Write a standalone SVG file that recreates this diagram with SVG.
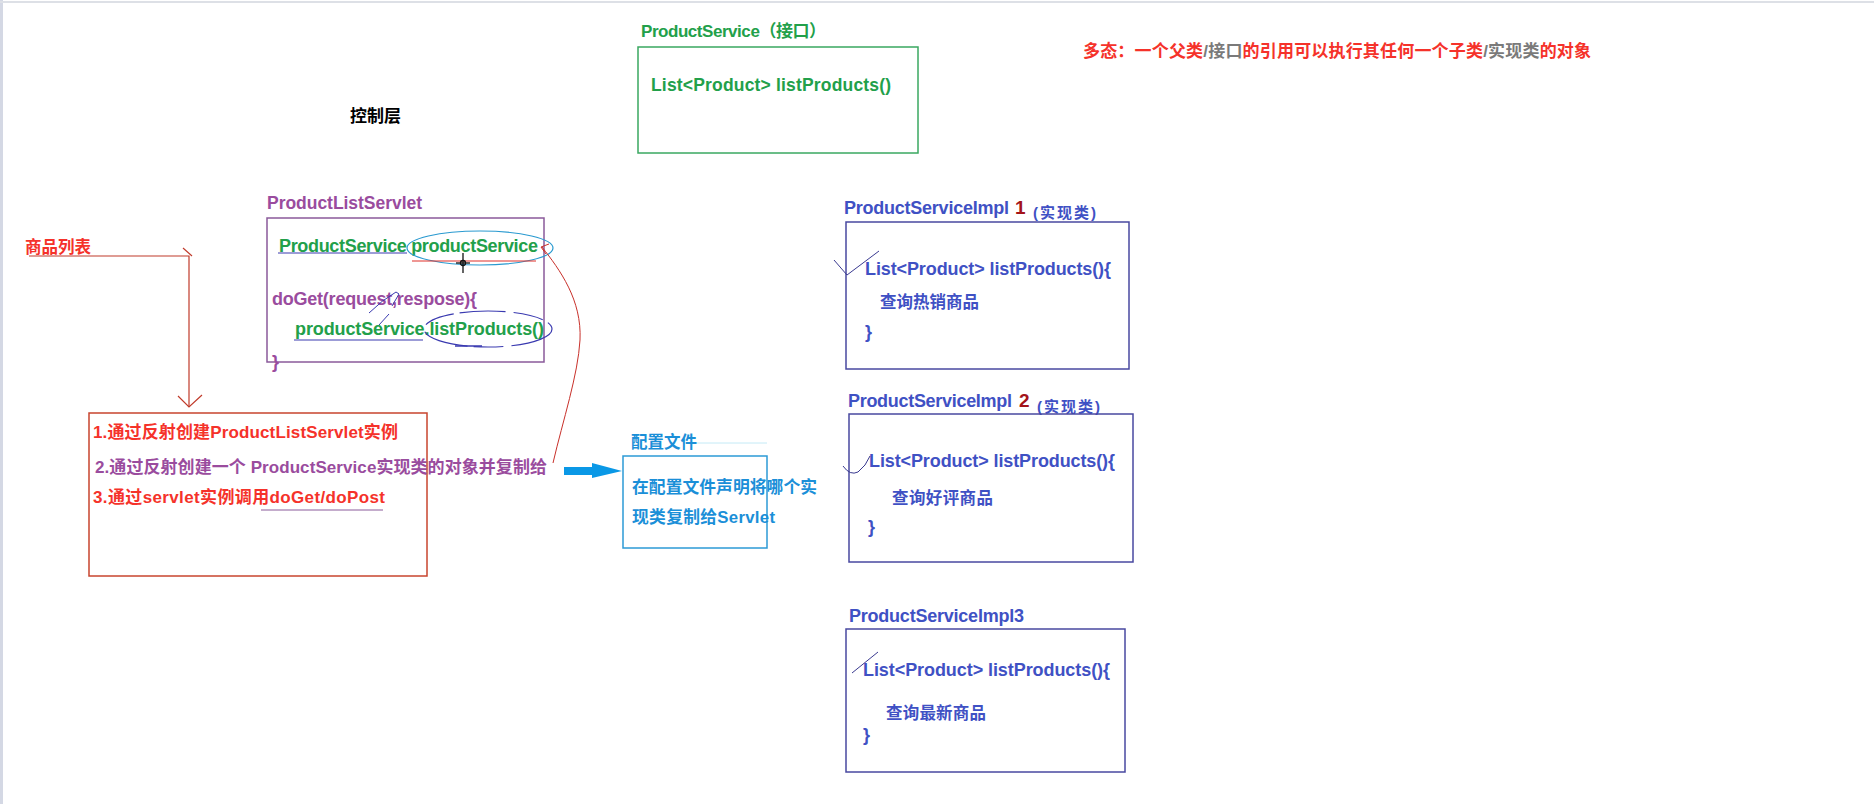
<svg xmlns="http://www.w3.org/2000/svg" width="1874" height="804" viewBox="0 0 1874 804">
<style>
text{font-family:"Liberation Sans","Noto Sans CJK SC",sans-serif;font-weight:bold;}
.g{fill:#22a04a;font-size:18px}
.p{fill:#9a4c9e;font-size:18px}
.b{fill:#3f51c4;font-size:18px}
.r{fill:#f5322a;font-size:17px}
.c{fill:#1b8fd8;font-size:16.5px}
.gray{fill:#7a7a7a}
.dr{fill:#a3141a;font-size:19px}
.box{fill:none;stroke-width:1.5}
.thin{fill:none;stroke-width:1}
</style>
<rect x="0" y="0" width="1874" height="804" fill="#ffffff"/>
<rect x="0" y="0" width="3" height="804" fill="#d4d8e4"/>
<line x1="0" y1="2" x2="1874" y2="2" stroke="#dde0e6" stroke-width="2"/>

<text id="title-control" x="350" y="122" style="font-size:17px;fill:#000">控制层</text>

<g id="polymorphism-note">
<text x="1083" y="57" style="font-size:17px" textLength="508"><tspan fill="#f5322a">多态：一个父类</tspan><tspan fill="#7a7a7a">/接口</tspan><tspan fill="#f5322a">的引用可以执行其任何一个子类</tspan><tspan fill="#7a7a7a">/实现类</tspan><tspan fill="#f5322a">的对象</tspan></text>
</g>

<g id="product-service-interface">
<text class="g" x="641" y="37" style="font-size:17px" textLength="185">ProductService（接口）</text>
<rect class="box" x="638" y="47" width="280" height="106" stroke="#3aa860"/>
<text class="g" x="651" y="91" style="font-size:17.5px" textLength="240">List&lt;Product&gt; listProducts()</text>
</g>

<g id="product-list-servlet">
<text class="p" x="267" y="209" style="font-size:17.5px" textLength="155">ProductListServlet</text>
<rect class="box" x="267" y="218" width="277" height="144" stroke="#8a5a9a"/>
<text class="g" x="279" y="252" textLength="259">ProductService productService</text>
<line x1="278" y1="253" x2="407" y2="253" stroke="#3a3ab0" stroke-width="1.2"/>
<ellipse cx="480" cy="248" rx="73" ry="17" fill="none" stroke="#2a9ad0" stroke-width="1.2"/>
<line x1="412" y1="261" x2="536" y2="261" stroke="#e0302a" stroke-width="1.2"/>
<g stroke="#111" stroke-width="1.3" fill="none">
<line x1="463" y1="253" x2="463" y2="273"/>
<line x1="456" y1="263" x2="470" y2="263"/>
<circle cx="463" cy="263" r="2.5"/>
</g>
<text class="p" x="272" y="305" textLength="205">doGet(request,respose){</text>
<path class="thin" d="M369,313 Q382,300 396,292 L399,294 L392,306" stroke="#3a3ab0"/>
<path class="thin" d="M389,314 L379,325" stroke="#3a3ab0"/>
<text class="g" x="295" y="335" textLength="249">productService.listProducts()</text>
<line x1="294" y1="340" x2="423" y2="340" stroke="#3a3ab0" stroke-width="1.2"/>
<ellipse cx="488" cy="329" rx="64" ry="18" fill="none" stroke="#3a3ab0" stroke-width="1.2" stroke-dasharray="46 8 30 6"/>
<line x1="455" y1="346" x2="482" y2="346" stroke="#3a3ab0" stroke-width="1.5"/>
<text class="p" x="272" y="368">}</text>
</g>

<g id="product-list-entry">
<text class="r" x="25" y="253" style="font-size:16.5px" textLength="66">商品列表</text>
</g>

<g id="steps-box">
<rect class="box" x="89" y="413" width="338" height="163" stroke="#c8442e"/>
<text class="r" x="93" y="438" textLength="305">1.通过反射创建ProductListServlet实例</text>
<text class="p" x="95" y="473" style="font-size:17px" textLength="452">2.通过反射创建一个 ProductService实现类的对象并复制给</text>
<text class="r" x="93" y="503" textLength="292">3.通过servlet实例调用doGet/doPost</text>
<line x1="261" y1="510" x2="383" y2="510" stroke="#8a5a9a" stroke-width="1"/>
</g>

<g id="config-file">
<text class="c" x="631" y="448" textLength="66">配置文件</text>
<line x1="697" y1="443" x2="767" y2="443" stroke="#c4eaf6" stroke-width="1"/>
<rect class="box" x="623" y="456" width="144" height="92" stroke="#2c9ad6"/>
<text class="c" x="632" y="493" style="font-size:16.8px" textLength="185">在配置文件声明将哪个实</text>
<text class="c" x="632" y="523" style="font-size:16.8px" textLength="143">现类复制给Servlet</text>
</g>

<g id="impl-1">
<text class="b" x="844" y="214" textLength="165">ProductServiceImpl</text>
<text class="dr" x="1015" y="214">1</text>
<text class="b" x="1033" y="218" style="font-size:15px" textLength="63">(实现类)</text>
<rect class="box" x="846" y="222" width="283" height="147" stroke="#4848a0"/>
<text class="b" x="865" y="275" textLength="246">List&lt;Product&gt; listProducts(){</text>
<text class="b" x="880" y="308" style="font-size:16.5px" textLength="99">查询热销商品</text>
<text class="b" x="865" y="338">}</text>
<path class="thin" d="M834,260 L847,275 L879,251" stroke="#3a3a90"/>
</g>

<g id="impl-2">
<text class="b" x="848" y="407" textLength="164">ProductServiceImpl</text>
<text class="dr" x="1019" y="407">2</text>
<text class="b" x="1037" y="412" style="font-size:15px" textLength="63">(实现类)</text>
<rect class="box" x="849" y="414" width="284" height="148" stroke="#4848a0"/>
<text class="b" x="869" y="467" textLength="246">List&lt;Product&gt; listProducts(){</text>
<text class="b" x="892" y="504" style="font-size:16.5px" textLength="101">查询好评商品</text>
<text class="b" x="868" y="533">}</text>
<path class="thin" d="M843,466 Q850,476 858,472 Q866,466 870,456" stroke="#3a3a90"/>
</g>

<g id="impl-3">
<text class="b" x="849" y="622" textLength="175">ProductServiceImpl3</text>
<rect class="box" x="846" y="629" width="279" height="143" stroke="#4848a0"/>
<text class="b" x="863" y="676" textLength="247">List&lt;Product&gt; listProducts(){</text>
<text class="b" x="886" y="719" style="font-size:16.5px" textLength="100">查询最新商品</text>
<text class="b" x="863" y="741">}</text>
<path class="thin" d="M852,673 L878,652" stroke="#3a3a90"/>
</g>

<g id="connectors">
<g stroke="#c03a2a" stroke-width="1.2" fill="none">
<polyline points="29,256 189,256 189,407"/>
<line x1="183" y1="248" x2="192" y2="256"/>
<polyline points="178,396 189,407 202,395"/>
</g>
<path d="M553,463 C563,420 578,375 580,340 C582,300 560,270 542,247" fill="none" stroke="#c8302a" stroke-width="1"/>
<polyline points="549,244 541,247 546,254" fill="none" stroke="#c8302a" stroke-width="1"/>
<polygon points="564,467 592,467 592,463 622,471 592,478 592,475 564,475" fill="#0a98e6"/>
</g>
</svg>
